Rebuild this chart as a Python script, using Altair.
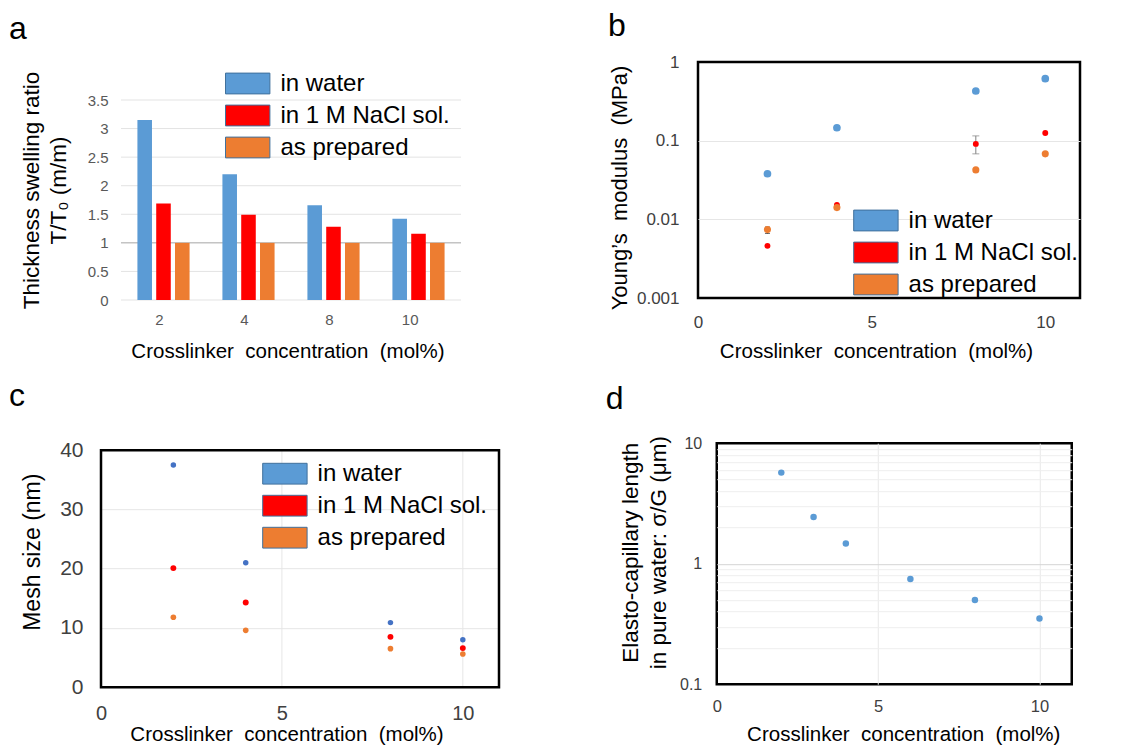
import altair as alt
import pandas as pd

FONT = "Liberation Sans"
SERIES = ["in water", "in 1 M NaCl sol.", "as prepared"]
SWATCH = ["#5B9BD5", "#FF0000", "#ED7D31"]
DOT_C = ["#4472C4", "#FF0000", "#ED7D31"]
XTITLE = "Crosslinker\u00a0 concentration\u00a0 (mol%)"
xticks = [0, 5, 10]

# ---- panel a : thickness swelling ratio (bars)
conc_a = ["2", "4", "8", "10"]
water_a = [3.15, 2.20, 1.66, 1.42]
nacl_a = [1.69, 1.49, 1.28, 1.16]
prep_a = [1.00, 1.00, 1.00, 1.00]
ticks_a = [0, 0.5, 1, 1.5, 2, 2.5, 3, 3.5]
grid_a = [0, 0.5, 1.5, 2, 2.5, 3, 3.5]
ref_a = [1.0]

# ---- panel b : Young's modulus (log)
conc_b = [2, 4, 8, 10]
water_b = [0.038, 0.146, 0.428, 0.614]
nacl_b = [0.0046, 0.0152, 0.091, 0.125]
prep_b = [0.0074, 0.0141, 0.0425, 0.068]
err_x_b = [8]
err_lo_b = [0.068]
err_hi_b = [0.115]
err2_x_b = [2]
err2_lo_b = [0.0066]
err2_hi_b = [0.0080]
ticks_b = [0.001, 0.01, 0.1, 1]

# ---- panel c : mesh size
conc_c = [2, 4, 8, 10]
water_c = [37.5, 21.0, 10.9, 8.0]
nacl_c = [20.1, 14.3, 8.5, 6.6]
prep_c = [11.8, 9.6, 6.5, 5.6]
ticks_c = [0, 10, 20, 30, 40]
vgrid_c = [5, 10]
box_c = {"x0": [0], "x1": [11], "y0": [0], "y1": [40]}

# ---- panel d : elasto-capillary length (log)
conc_d = [2, 3, 4, 6, 8, 10]
length_d = [5.7, 2.44, 1.47, 0.745, 0.50, 0.351]
ticks_d = [0.1, 0.2, 0.3, 0.4, 0.5, 0.6, 0.7, 0.8, 0.9,
           1, 2, 3, 4, 5, 6, 7, 8, 9, 10]


def long(x, cols):
    rows = []
    for s, vals in zip(SERIES, cols):
        for xi, v in zip(x, vals):
            rows.append({"x": xi, "series": s, "value": v})
    return pd.DataFrame(rows)


def legend(x, y):
    return alt.Legend(
        title=None, orient="none", legendX=x, legendY=y, direction="vertical",
        symbolType="M-1.2,-0.562H1.2V0.562H-1.2Z", symbolSize=1369,
        symbolStrokeColor="#41719C", symbolStrokeWidth=1, symbolOpacity=1,
        labelFont=FONT, labelFontSize=24, labelColor="#000000", labelLimit=400,
        labelOffset=13.7, rowPadding=0, padding=0,
    )


def ax(**kw):
    base = dict(ticks=False, tickSize=0, domain=False, labelFont=FONT,
                titleFont=FONT, titleFontWeight="normal", titleColor="#000000",
                labelColor="#404040", labelFlush=False, labelOverlap=False)
    base.update(kw)
    return alt.Axis(**base)


def letter(t, dx, offset):
    return alt.TitleParams(text=t, anchor="start", frame="group", fontSize=32,
                           font=FONT, fontWeight="normal", color="#000000",
                           dx=dx, offset=offset)


def edge_zero(test):
    return {"condition": {"test": test, "value": 0}, "value": 1}


FRAME = alt.ViewBackground(stroke="#000000", strokeWidth=2.5)

# ================= panel a
df_a = pd.DataFrame({
    "conc": conc_a * 3,
    "series": [s for s in SERIES for _ in conc_a],
    "value": water_a + nacl_a + prep_a,
})
x_scale_a = alt.Scale(domain=conc_a, paddingInner=0, paddingOuter=0.1176, align=1)
x_a = alt.X("conc:N", sort=conc_a, scale=x_scale_a,
            axis=ax(title=XTITLE, labelAngle=0, labelFontSize=15, labelColor="#595959",
                    labelPadding=19, titleFontSize=20.5, titleX=186.5, titleY=41,
                    titleBaseline="top", titleAlign="center", grid=False))
y_scale_a = alt.Scale(domain=[0, 4.165], nice=False)
y_a = alt.Y("value:Q", scale=y_scale_a,
            axis=ax(values=ticks_a, format="~g", labelFontSize=15, labelColor="#595959",
                    labelPadding=-7, grid=False,
                    title=["Thickness swelling ratio", "T/T\u2080 (m/m)"],
                    titleFontSize=22.5, titleLineHeight=27, titleX=-58, titleY=128,
                    titleBaseline="bottom", titleAlign="center", titleAngle=-90))
grid_rules_a = alt.Chart(pd.DataFrame({"value": grid_a})).mark_rule(
    color="#e3e3e3", strokeWidth=1).encode(
    y=y_a,
    x=alt.XDatum("2", bandPosition=0, scale=x_scale_a),
    x2=alt.X2Datum("10", bandPosition=1),
)
rule_a = alt.Chart(pd.DataFrame({"value": ref_a})).mark_rule(
    color="#a6a6a6", strokeWidth=1).encode(
    y=y_a,
    x=alt.XDatum("2", bandPosition=0, scale=x_scale_a),
    x2=alt.X2Datum("10", bandPosition=1),
)
bars_a = alt.Chart(df_a).mark_bar().encode(
    x=x_a,
    xOffset=alt.XOffset("series:N", sort=SERIES,
                        scale=alt.Scale(paddingInner=0.225, paddingOuter=0.874)),
    y=y_a,
    color=alt.Color("series:N", sort=SERIES,
                    scale=alt.Scale(domain=SERIES, range=SWATCH),
                    legend=legend(127.7, 2.5)),
)
panel_a = alt.layer(grid_rules_a, rule_a, bars_a).properties(
    width=360, height=238, title=letter("a", -92, 16.5))

# ================= panel b
df_b = long(conc_b, [water_b, nacl_b, prep_b])
x_b = alt.X("x:Q", scale=alt.Scale(domain=[0, 11], nice=False, zero=False),
            axis=ax(values=xticks, labelFontSize=17, labelPadding=16.7, grid=False,
                    title=XTITLE, titleFontSize=20.5, titleX=178, titleY=43,
                    titleBaseline="top", titleAlign="center"))
YT_B = "Young\u2019s\u00a0 modulus\u00a0 (MPa)"
y_scale_b = alt.Scale(type="log", domain=[0.001, 1], nice=False)
axis_y_b = ax(values=ticks_b, format="~g", labelFontSize=17, labelPadding=19,
              gridColor="#e6e6e6",
              gridOpacity=edge_zero("datum.value < 0.002 || datum.value > 0.5"),
              title=YT_B, titleFontSize=22, titleX=-67, titleY=125.5,
              titleBaseline="bottom", titleAlign="center", titleAngle=-90)
y_b = alt.Y("value:Q", scale=y_scale_b, axis=axis_y_b)
df_err_b = pd.DataFrame({"x": err_x_b, "lo": err_lo_b, "hi": err_hi_b})
err_b = alt.Chart(df_err_b).mark_errorbar(ticks={"size": 7}, color="#808080").encode(
    x=x_b, y=alt.Y("lo:Q", scale=y_scale_b, axis=axis_y_b), y2="hi:Q")
df_err2_b = pd.DataFrame({"x": err2_x_b, "lo": err2_lo_b, "hi": err2_hi_b})
err2_b = alt.Chart(df_err2_b).mark_errorbar(ticks={"size": 5}, color="#303030").encode(
    x=x_b, y=alt.Y("lo:Q", scale=y_scale_b, axis=axis_y_b), y2="hi:Q")
color_b = alt.Color("series:N", scale=alt.Scale(domain=SERIES, range=SWATCH),
                    legend=legend(158.9, 139.5))
layers_b = [err_b, err2_b]
for s, size in zip(SERIES, [59, 35, 50]):
    layers_b.append(
        alt.Chart(df_b).transform_filter(alt.datum.series == s)
        .mark_circle(size=size, opacity=1)
        .encode(x=x_b, y=y_b, color=color_b)
    )
panel_b = alt.layer(*layers_b).properties(
    width=382, height=236, title=letter("b", -90, 10.1), view=FRAME)

# ================= panel c
df_c = long(conc_c, [water_c, nacl_c, prep_c])
x_scale_c = alt.Scale(domain=[0, 11], nice=False, zero=False)
axis_x_c = ax(values=xticks, labelFontSize=20, labelPadding=16.5, grid=False,
              title=XTITLE, titleFontSize=20.5, titleX=185.5, titleY=37.5,
              titleBaseline="top", titleAlign="center")
y_scale_c = alt.Scale(domain=[0, 41.18], nice=False)
axis_y_c = ax(values=ticks_c, labelFontSize=21, labelPadding=18, gridColor="#e6e6e6",
              gridOpacity=edge_zero("datum.value < 1 || datum.value > 39"),
              title="Mesh size (nm)", titleFontSize=23, titleX=-57, titleY=108.5,
              titleBaseline="bottom", titleAlign="center", titleAngle=-90)
x_c = alt.X("x:Q", scale=x_scale_c, axis=axis_x_c)
y_c = alt.Y("value:Q", scale=y_scale_c, axis=axis_y_c)
df_vg_c = pd.DataFrame({"x": vgrid_c, "y0": [0] * len(vgrid_c), "y1": [40] * len(vgrid_c)})
vgrid_layer_c = alt.Chart(df_vg_c).mark_rule(color="#e6e6e6", strokeWidth=1).encode(
    x=x_c, y=alt.Y("y0:Q", scale=y_scale_c, axis=axis_y_c), y2="y1:Q")
box_layer_c = alt.Chart(pd.DataFrame(box_c)).mark_rect(
    filled=False, color="#000000", strokeWidth=2.5).encode(
    x=alt.X("x0:Q", scale=x_scale_c, axis=axis_x_c), x2="x1:Q",
    y=alt.Y("y0:Q", scale=y_scale_c, axis=axis_y_c), y2="y1:Q")
key_c = alt.Chart(df_c).mark_square(opacity=0).encode(
    x=x_c, y=y_c,
    fill=alt.Fill("series:N", scale=alt.Scale(domain=SERIES, range=SWATCH),
                  legend=legend(164.9, 11.5)),
)
color_c = alt.Color("series:N", scale=alt.Scale(domain=SERIES, range=DOT_C), legend=None)
layers_c = [vgrid_layer_c, box_layer_c, key_c]
for s, size in zip(SERIES, [30, 35, 32]):
    layers_c.append(
        alt.Chart(df_c).transform_filter(alt.datum.series == s)
        .mark_circle(size=size, opacity=1)
        .encode(x=x_c, y=y_c, color=color_c)
    )
panel_c = alt.layer(*layers_c).properties(
    width=398, height=244, title=letter("c", -92, 26.6))

# ================= panel d
df_d = pd.DataFrame({"x": conc_d, "value": length_d})
x_d = alt.X("x:Q", scale=alt.Scale(domain=[0, 11], nice=False, zero=False),
            axis=ax(values=xticks, labelFontSize=16.5, labelPadding=14, gridColor="#e8e8e8",
                    gridOpacity=edge_zero("datum.value < 0.5"),
                    title=XTITLE, titleFontSize=20.5, titleX=186.5, titleY=40,
                    titleBaseline="top", titleAlign="center"))
y_d = alt.Y("value:Q", scale=alt.Scale(type="log", domain=[0.1, 10], nice=False),
            axis=ax(values=ticks_d, format="~g",
                    labelExpr="indexof([0.1, 1, 10], datum.value) >= 0 ? datum.label : ''",
                    labelFontSize=16, labelPadding=15,
                    gridColor={"condition": {"test": "datum.value === 1", "value": "#d4d4d4"},
                               "value": "#eeeeee"},
                    gridOpacity=edge_zero("datum.value < 0.15 || datum.value > 9.5"),
                    title=["Elasto-capillary length", "in pure water: \u03c3/G (\u03bcm)"],
                    titleFontSize=22.5, titleLineHeight=28, titleX=-74, titleY=109,
                    titleBaseline="bottom", titleAlign="center", titleAngle=-90))
panel_d = alt.Chart(df_d).mark_circle(color="#5B9BD5", size=42, opacity=1).encode(
    x=x_d, y=y_d
).properties(width=355, height=241, title=letter("d", -111, 19.3), view=FRAME)

IND = dict(color="independent", fill="independent")
row1 = alt.hconcat(panel_a, panel_b, spacing=144).resolve_scale(**IND).resolve_legend(**IND)
row2 = alt.hconcat(panel_c, panel_d, spacing=102.75).resolve_scale(**IND).resolve_legend(**IND)
chart = (
    alt.vconcat(row1, row2, spacing=15.2)
    .resolve_scale(**IND).resolve_legend(**IND)
    .properties(padding=0, background="white")
    .configure(font=FONT)
    .configure_view(stroke="transparent")
)

chart.save("out.html", embed_options={"renderer": "svg", "actions": False})
